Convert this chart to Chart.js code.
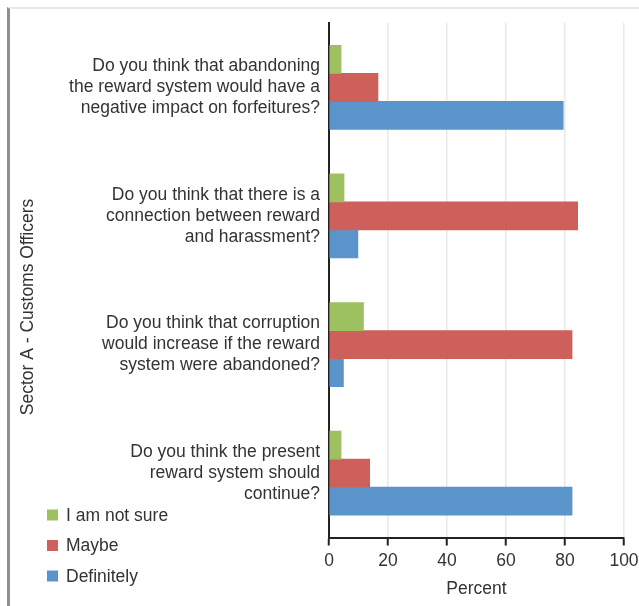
<!DOCTYPE html>
<html>
<head>
<meta charset="utf-8">
<script src="https://cdn.jsdelivr.net/npm/chart.js@4.4.0/dist/chart.umd.min.js"></script>
<style>
  body { margin: 0; background: #fff; }
  #wrap { position: relative; width: 639px; height: 606px; }
  #frame { position: absolute; left: 7px; top: 7px; right: 0; bottom: 0;
           border-left: 3px solid #8f8f8f; border-top: 2px solid #e8e8e8; }
  #grafico { position: absolute; left: 0; top: 0; }
</style>
</head>
<body>
<div id="wrap">
  <div id="frame"></div>
  <canvas id="grafico" width="639" height="606"></canvas>
</div>
<script>
// dados
const perguntas = [
  ["Do you think that abandoning", "the reward system would have a", "negative impact on forfeitures?"],
  ["Do you think that there is a", "connection between reward", "and harassment?"],
  ["Do you think that corruption", "would increase if the reward", "system were abandoned?"],
  ["Do you think the present", "reward system should", "continue?"]
];
const naoSei = [4.1, 5.1, 11.7, 4.1];
const talvez = [16.6, 84.3, 82.4, 13.8];
const definitivamente = [79.4, 9.8, 4.9, 82.4];
const seriesNomes = ["I am not sure", "Maybe", "Definitely"];
const xTicks = [0, 20, 40, 60, 80, 100];
const tituloY = "Sector A - Customs Officers";
const tituloX = "Percent";

const FONTE = "'Liberation Sans', Arial, sans-serif";
const TAM = 17.5;
const corTexto = "#333333";

// legenda e titulo do eixo y desenhados a mao
const extras = {
  id: "extras",
  afterDraw(chart) {
    const ctx = chart.ctx;
    ctx.save();
    ctx.font = TAM + "px " + FONTE;
    ctx.textBaseline = "middle";
    chart.data.datasets.forEach((ds, i) => {
      const y = 515 + i * 30.5;
      ctx.fillStyle = ds.backgroundColor;
      ctx.fillRect(47, y - 5.5, 11, 11);
      ctx.fillStyle = corTexto;
      ctx.textAlign = "left";
      ctx.fillText(ds.label, 66, y + 1);
    });
    ctx.translate(28, 307);
    ctx.rotate(-Math.PI / 2);
    ctx.textAlign = "center";
    ctx.fillText(tituloY, 0, 0);
    ctx.restore();
  }
};

const ctx = document.getElementById("grafico").getContext("2d");
new Chart(ctx, {
  type: "bar",
  data: {
    labels: perguntas,
    datasets: [
      { label: seriesNomes[0], data: naoSei, backgroundColor: "#9dc161" },
      { label: seriesNomes[1], data: talvez, backgroundColor: "#cd605b" },
      { label: seriesNomes[2], data: definitivamente, backgroundColor: "#5b94cb" }
    ]
  },
  options: {
    indexAxis: "y",
    responsive: false,
    animation: false,
    barThickness: 28,
    layout: { padding: { top: 23, right: 15, left: 0, bottom: 0 } },
    plugins: { legend: { display: false }, tooltip: { enabled: false } },
    scales: {
      x: {
        min: 0, max: 100,
        afterBuildTicks: (s) => { s.ticks = xTicks.map(v => ({ value: v })); },
        afterFit: (s) => { s.height = 68.5; s.paddingLeft = 0; s.paddingRight = 0; },
        grid: { color: "#e8e8e8", lineWidth: 1.5, tickColor: "#222", tickLength: 8, tickWidth: 2 },
        border: { color: "#222", width: 2 },
        ticks: { font: { family: FONTE, size: TAM }, color: corTexto, padding: 5 },
        title: { display: true, text: tituloX, font: { family: FONTE, size: TAM }, color: corTexto, padding: { bottom: 6 } }
      },
      y: {
        afterFit: (s) => { s.width = 329; s.paddingTop = 0; s.paddingBottom = 0; },
        grid: { display: false, drawTicks: false },
        border: { color: "#222", width: 2 },
        ticks: { font: { family: FONTE, size: TAM, lineHeight: 1.2 }, color: corTexto, padding: 9 }
      }
    }
  },
  plugins: [extras]
});
</script>
</body>
</html>
